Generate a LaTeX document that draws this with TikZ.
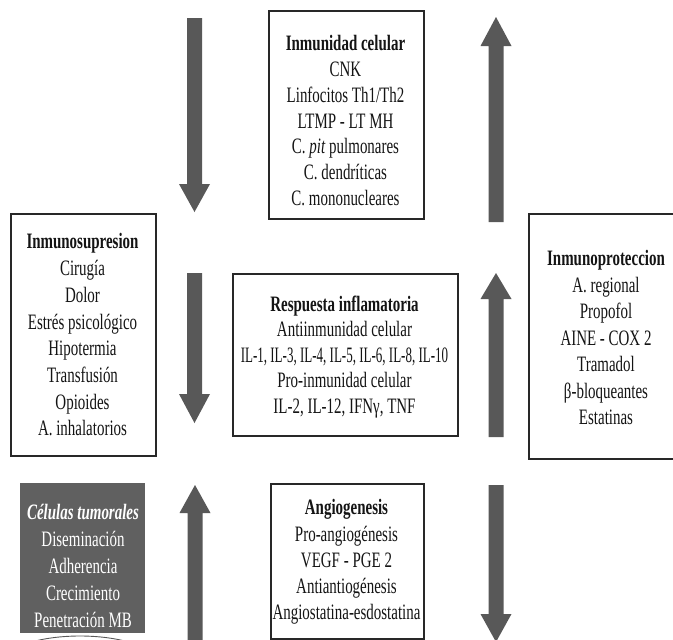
\documentclass[tikz,border=0pt]{standalone}
\usepackage{graphicx}
\usepackage{fontspec}
\setmainfont{Liberation Serif}[FakeStretch=0.68]
\definecolor{arrowgray}{RGB}{88,88,88}
\definecolor{cellgray}{RGB}{96,96,96}
\definecolor{edgegray}{RGB}{40,40,40}
\tikzset{
  box/.style={draw=edgegray, line width=2pt, fill=white, inner sep=0pt, anchor=north west},
  cellbox/.style={fill=cellgray, inner sep=0pt, anchor=north west},
  txt/.style={anchor=north, inner sep=0pt, align=center, text=black!92},
  arrowfill/.style={fill=arrowgray},
}
\newcommand\blockarr[4]{%
  \fill[arrowfill] ({#1-7.5},#2) -- ({#1+7.5},#2) -- ({#1+7.5},#3) -- ({#1+15.5},#3) -- (#1,#4) -- ({#1-15.5},#3) -- ({#1-7.5},#3) -- cycle;}
\begin{document}
\begin{tikzpicture}[x=1pt,y=-1pt]
\useasboundingbox (0,0) rectangle (673,640);
\clip (0,0) rectangle (673,640);

% arrows
\blockarr{194.5}{18}{184}{212}
\blockarr{496}{222}{46}{17}
\blockarr{194.5}{273}{394}{423}
\blockarr{496}{437}{299}{273}
\blockarr{195}{645}{513}{485}
\blockarr{496}{485}{614}{642}

% boxes
\node[box, minimum width=155pt, minimum height=208pt] (topbox) at (268,10) {};
\node[box, minimum width=145pt, minimum height=242pt] (leftbox) at (10,213) {};
\node[box, minimum width=162pt, minimum height=245pt] (rightbox) at (528,213) {};
\node[box, minimum width=225pt, minimum height=162pt] (respbox) at (232,273) {};
\node[box, minimum width=153pt, minimum height=155pt] (angiobox) at (270,483) {};
\node[cellbox, minimum width=125pt, minimum height=150pt] (celbox) at (20,483) {};

% texts
\node[txt, font=\fontsize{22}{25.7}\selectfont] (toptxt) at (345.5,35.5)
  {\textbf{Inmunidad celular}\\CNK\\Linfocitos Th1/Th2\\LTMP - LT MH\\C. \textit{pit} pulmonares\\C. dendríticas\\C. mononucleares};
\node[txt, font=\fontsize{22}{26.7}\selectfont] (lefttxt) at (82.5,233.5)
  {\textbf{Inmunosupresion}\\Cirugía\\Dolor\\Estrés psicológico\\Hipotermia\\Transfusión\\Opioides\\A. inhalatorios};
\node[txt, font=\fontsize{22}{26.5}\selectfont] (righttxt) at (606,250.5)
  {\textbf{Inmunoproteccion}\\A. regional\\Propofol\\AINE - COX 2\\Tramadol\\β-bloqueantes\\Estatinas};
\node[txt, font=\fontsize{22}{25.5}\selectfont] (resptxt) at (344.5,295.5)
  {\textbf{Respuesta inflamatoria}\\Antiinmunidad celular\\\scalebox{0.87}[1]{IL-1, IL-3, IL-4, IL-5, IL-6, IL-8, IL-10}\\Pro-inmunidad celular\\IL-2, IL-12, IFNγ, TNF};
\node[txt, font=\fontsize{22}{26.2}\selectfont] (angiotxt) at (346.5,499.5)
  {\textbf{Angiogenesis}\\Pro-angiogénesis\\VEGF - PGE 2\\Antiantiogénesis\\Angiostatina-esdostatina};
\node[txt, text=white, font=\fontsize{22}{26.8}\selectfont] (celtxt) at (83,504.5)
  {\textbf{\textit{Células tumorales}}\\Diseminación\\Adherencia\\Crecimiento\\Penetración MB};

% partial ellipse below
\draw[black!65, line width=0.9pt] (80,666) ellipse [x radius=81, y radius=30];
\end{tikzpicture}
\end{document}
